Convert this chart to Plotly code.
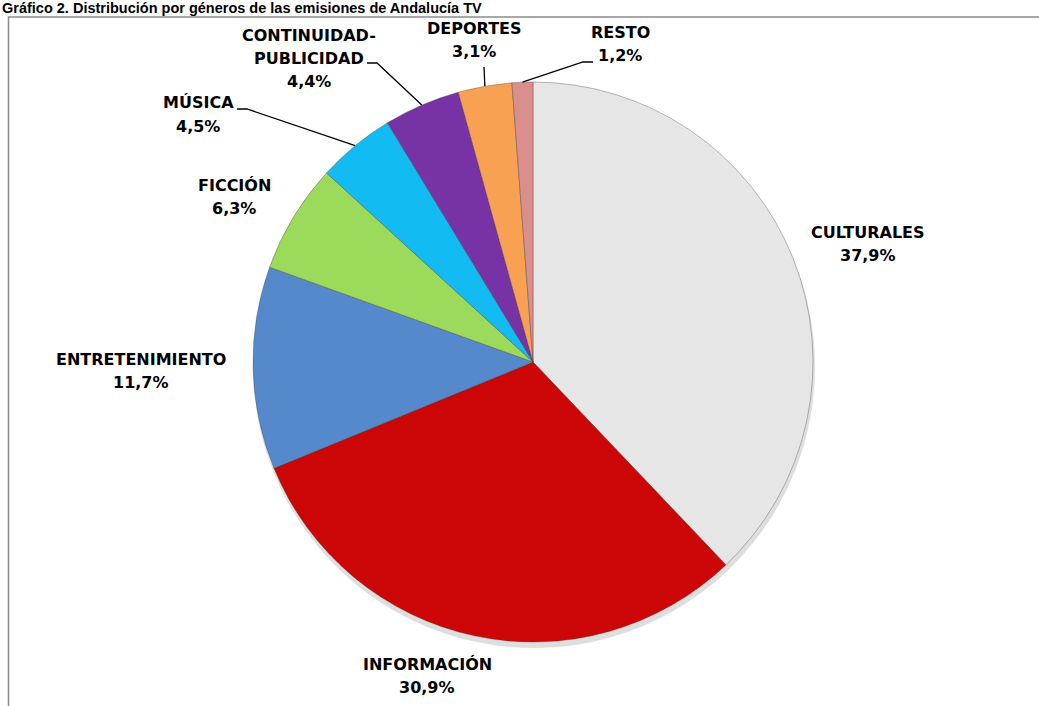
import math
import plotly.graph_objects as go

# ---- data ----
categories = ["CULTURALES", "INFORMACIÓN", "ENTRETENIMIENTO", "FICCIÓN",
              "MÚSICA", "CONTINUIDAD-PUBLICIDAD", "DEPORTES", "RESTO"]
values = [37.9, 30.9, 11.7, 6.3, 4.5, 4.4, 3.1, 1.2]
label_lines = [["CULTURALES"], ["INFORMACIÓN"], ["ENTRETENIMIENTO"], ["FICCIÓN"],
               ["MÚSICA"], ["CONTINUIDAD-", "PUBLICIDAD"], ["DEPORTES"], ["RESTO"]]
colors = ["#E6E6E6", "#CC0606", "#5589CC", "#9BDA5A", "#12BCF3", "#7733A5", "#F9A152", "#DB8E8E"]
title = "Gráfico 2. Distribución por géneros de las emisiones de Andalucía TV"

W, H = 1039, 706
CX, CY, R = 533, 362, 280


def px(x):
    return x / W


def py(y):
    return 1 - y / H


def dom(cx, cy, r):
    return dict(x=[px(cx - r), px(cx + r)], y=[py(cy + r), py(cy - r)])


fig = go.Figure()
# soft drop shadow under the pie
fig.add_trace(go.Pie(
    labels=categories, values=values, sort=False, direction="clockwise", rotation=0,
    textinfo="none", hoverinfo="skip",
    marker=dict(colors=["rgba(0,0,0,0.13)"] * len(values), line=dict(width=0)),
    domain=dom(CX + 1, CY + 5, R + 1), showlegend=False,
))
fig.add_trace(go.Pie(
    labels=categories, values=values, sort=False, direction="clockwise",
    rotation=0, textinfo="none", hoverinfo="label+percent",
    marker=dict(colors=colors, line=dict(color="rgba(60,60,60,0.35)", width=1)),
    domain=dom(CX, CY, R), showlegend=False,
))

FONT = "DejaVu Sans, Verdana, sans-serif"
LINE_GAP = 23.5

# label first-line centre positions (pixels) and optional leader lines
label_pos = [(868, 232), (427, 664), (141, 359), (234, 185), (198, 103), (309, 35), (474, 28), (620, 32)]
leaders = {4: [(237, 109), (247, 109)], 5: [(367, 63), (377, 63)], 6: [(484, 67), (484, 67)],
           7: [(593, 62), (583, 62)]}

annotations = []
shapes = []
total = sum(values)
cum = 0.0
for i, (cat, v) in enumerate(zip(categories, values)):
    mid = (cum + v / 2) / total * 2 * math.pi
    cum += v
    lines = label_lines[i] + [f"{v:.1f}%".replace(".", ",")]
    lx, ly = label_pos[i]
    for k, t in enumerate(lines):
        annotations.append(dict(x=px(lx), y=py(ly + k * LINE_GAP), xref="paper", yref="paper",
                                text=f"<b>{t}</b>", showarrow=False, xanchor="center",
                                yanchor="middle", font=dict(family=FONT, size=16, color="black")))
    if i in leaders:
        ex = CX + R * math.sin(mid)
        ey = CY - R * math.cos(mid)
        (x0, y0), (x1, y1) = leaders[i]
        path = f"M {px(x0)} {py(y0)} L {px(x1)} {py(y1)} L {px(ex)} {py(ey)}"
        shapes.append(dict(type="path", path=path, xref="paper", yref="paper",
                           line=dict(color="black", width=1.3)))

annotations.append(dict(x=0, y=py(8), xref="paper", yref="paper", text=f"<b>{title}</b>",
                        showarrow=False, xanchor="left", yanchor="middle",
                        font=dict(family="Liberation Sans, Arial, sans-serif", size=14.5, color="black")))

# frame
shapes.append(dict(type="path", xref="paper", yref="paper",
                   path=f"M {px(8.5)} {py(706)} L {px(8.5)} {py(17)} L {px(1039)} {py(17)}",
                   line=dict(color="#8C8C8C", width=1.5)))

fig.update_layout(width=W, height=H, autosize=False, margin=dict(l=0, r=0, t=0, b=0),
                  paper_bgcolor="white", plot_bgcolor="white",
                  annotations=annotations, shapes=shapes)

fig.write_html("out.html", config={"displayModeBar": False},
               post_script="document.body.style.margin='0';document.body.style.overflow='hidden';")
